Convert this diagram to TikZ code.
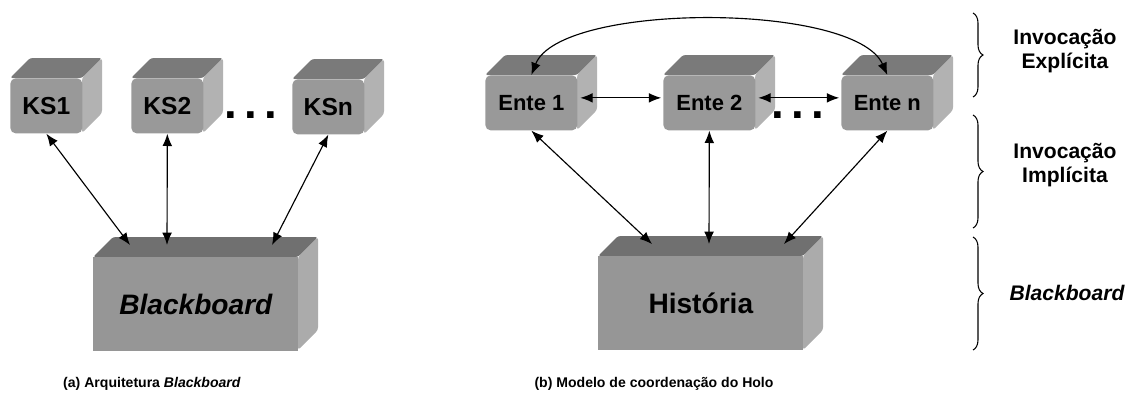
\documentclass[tikz,border=0pt]{standalone}
\usepackage{fontspec}
\setmainfont{Liberation Sans}
\usetikzlibrary{arrows.meta,decorations.pathreplacing}

\definecolor{cubefront}{gray}{0.60}
\definecolor{cubetop}{gray}{0.48}
\definecolor{cubeside}{gray}{0.70}
\definecolor{boxfront}{gray}{0.59}
\definecolor{boxtop}{gray}{0.44}
\definecolor{boxside}{gray}{0.67}

% top and right faces of a block: x, y, w, h, depth, colour prefix
\newcommand{\cubeback}[6]{%
\fill[#6top, rounded corners=1.5pt] (#1,#2) -- ++(#5,-#5) -- ++(#3,0) -- ++(-#5,#5) -- cycle;
\fill[#6side, rounded corners=1.5pt] ({#1+#3},#2) -- ++(#5,-#5) -- ++(0,#4) -- ++(-#5,#5) -- cycle;
}

\tikzset{
ks/.style={fill=cubefront, rounded corners=3pt, minimum width=1.44cm, minimum height=1.1cm, inner sep=0pt, anchor=north west, font=\fontsize{14}{16}\selectfont\bfseries},
ente/.style={ks, minimum width=1.84cm, font=\fontsize{12.5}{14}\selectfont\bfseries},
bigbox/.style={fill=boxfront, minimum width=4.1cm, minimum height=1.88cm, inner sep=0pt, anchor=north west, font=\fontsize{16}{18}\selectfont\bfseries},
link/.style={<->, >={Latex[length=7pt,width=5.5pt]}, line width=0.65pt},
dots/.style={inner sep=0pt, font=\fontsize{26}{26}\selectfont\bfseries},
sidebrace/.style={decorate, decoration={brace, amplitude=0.2cm}, line width=0.6pt},
sidetext/.style={align=center, font=\fontsize{12}{14}\selectfont\bfseries},
captext/.style={font=\fontsize{8}{10}\selectfont\bfseries}
}

\begin{document}
\begin{tikzpicture}[x=0.02cm, y=-0.02cm]
\useasboundingbox (0,0) rectangle (1126,397);

% (a) blackboard architecture
\cubeback{10}{78}{72}{55}{20}{cube}
\node[ks] (ks1) at (10,78) {KS1};
\cubeback{131}{78}{72}{55}{20}{cube}
\node[ks] (ks2) at (131,78) {KS2};
\cubeback{292}{79}{72}{55}{20}{cube}
\node[ks] (ksn) at (292,79) {KSn};
\node[dots] (dotsa) at (251,115) {.\hspace{4pt}.\hspace{4pt}.};

\cubeback{93}{257}{205}{93}{20}{box}
\node[bigbox] (bb) at (93,257) {\itshape Blackboard};
\coordinate (bb1) at (130,245);
\coordinate (bb2) at (167,245);
\coordinate (bb3) at (272,245);
\draw[link] (ks1.south) -- (bb1);
\draw[link] (ks2.south) -- (bb2);
\draw[link] (ksn.south) -- (bb3);

% (b) Holo
\cubeback{485}{75}{92}{55}{20}{cube}
\node[ente] (e1) at (485,75) {Ente 1};
\cubeback{663}{75}{92}{55}{20}{cube}
\node[ente] (e2) at (663,75) {Ente 2};
\cubeback{841}{75}{92}{55}{20}{cube}
\node[ente] (en) at (841,75) {Ente n};
\node[dots] (dotsb) at (798,115) {.\hspace{4pt}.\hspace{4pt}.};

\cubeback{598}{256}{205}{94}{20}{box}
\node[bigbox] (hist) at (598,256) {História};
\coordinate (h1) at (652,244);
\coordinate (h2) at (709,244);
\coordinate (h3) at (784,244);
\draw[link] (e1.south) -- (h1);
\draw[link] (e2.south) -- (h2);
\draw[link] (en.south) -- (h3);
\draw[link, shorten <=1.5pt, shorten >=1pt] ([yshift=0.1cm]e1.east) -- ([yshift=0.1cm]e2.west);
\draw[link, shorten <=1.5pt, shorten >=1pt] ([yshift=0.1cm]e2.east) -- ([yshift=0.1cm]en.west);
\draw[link] (e1.north) .. controls (560,2) and (855,2) .. (en.north);

% levels
\draw[sidebrace] (973,13) -- (973,97);
\draw[sidebrace] (973,115) -- (973,228);
\draw[sidebrace] (973,237) -- (973,350);
\node[sidetext] (expl) at (1065,51) {Invocação\\Explícita};
\node[sidetext] (impl) at (1065,165) {Invocação\\Implícita};
\node[sidetext] (bbtxt) at (1067,293) {\itshape Blackboard};

\node[captext] (capa) at (152,384) {(a) Arquitetura \textit{Blackboard}};
\node[captext] (capb) at (654,384) {(b) Modelo de coordenação do Holo};
\end{tikzpicture}
\end{document}
